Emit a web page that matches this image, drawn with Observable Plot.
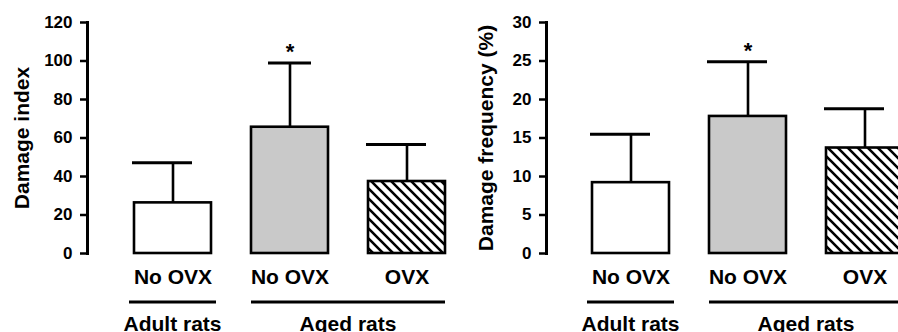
<!DOCTYPE html>
<html>
<head>
<meta charset="utf-8">
<script src="https://cdn.jsdelivr.net/npm/d3@7"></script>
<script src="https://cdn.jsdelivr.net/npm/@observablehq/plot@0.6"></script>
<style>
  html, body { margin: 0; padding: 0; background: white; overflow: hidden; width: 898px; height: 332px; }
  #left, #right { position: absolute; top: 0; }
  #left { left: 0; width: 450px; }
  #right { left: 450px; width: 460px; }
</style>
</head>
<body>
<div id="left"></div>
<div id="right"></div>
<script>
// ---- data ----
const categories = ["Adult No OVX", "Aged No OVX", "Aged OVX"];
const categoryLabels = ["No OVX", "No OVX", "OVX"];
const groupNames = ["Adult rats", "Aged rats"];
const groupMembers = [["Adult No OVX"], ["Aged No OVX", "Aged OVX"]];
const significant = [false, true, false];

const damageIndexMean = [26.3, 65.6, 37.4];
const damageIndexUpper = [47.1, 99.0, 56.6];
const damageIndexTicks = [0, 20, 40, 60, 80, 100, 120];

const damageFreqMean = [9.2, 17.8, 13.7];
const damageFreqUpper = [15.5, 24.9, 18.8];
const damageFreqTicks = [0, 5, 10, 15, 20, 25, 30];

function makePanel({means, uppers, ticks, yMax, label, marginLeft, range, hatchId, labelDx, capSpecial}) {
  const rows = categories.map((c, i) => ({cat: c, mean: means[i], upper: uppers[i], sig: significant[i], i}));
  const fills = ["white", "#c9c9c9", `url(#${hatchId})`];
  const defs = () => {
    const d = d3.create("svg:defs");
    const p = d.append("pattern").attr("id", hatchId).attr("patternUnits", "userSpaceOnUse")
      .attr("width", 10).attr("height", 10);
    p.append("rect").attr("width", 10).attr("height", 10).attr("fill", "white");
    p.append("path").attr("d", "M-2,-2L12,12M-7,3L3,13M3,-7L13,3")
      .attr("stroke", "black").attr("stroke-width", 2.6).attr("fill", "none");
    return d.node();
  };
  const marks = [
    defs,
    Plot.frame({anchor: "left", stroke: "black", strokeWidth: 3}),
    Plot.axisY({ticks, tickSize: 7, tickPadding: 8, fontSize: 17, strokeWidth: 2.5, label: null, tickFormat: d => String(d)}),
    Plot.axisX({tickSize: 0, tickPadding: 16, fontSize: 21, label: null, tickFormat: d => categoryLabels[categories.indexOf(d)]}),
    Plot.ruleX(rows, {x: "cat", y1: "mean", y2: "upper", stroke: "black", strokeWidth: 2.6}),
  ];
  rows.forEach((r, i) => {
    marks.push(Plot.barY([r], {x: "cat", y: "mean", fill: fills[i], stroke: "black", strokeWidth: 2.6}));
    const special = capSpecial && i === 1;
    marks.push(Plot.tickY([r], {x: "cat", y: "upper", stroke: "black", strokeWidth: 3,
      insetLeft: special ? 17 : -2, insetRight: special ? 17 : 19}));
  });
  marks.push(Plot.text(rows.filter(r => r.sig), {x: "cat", y: "upper", text: () => "*", fontSize: 22, lineAnchor: "bottom", dy: -4}));
  marks.push(Plot.text([label], {text: d => d, frameAnchor: "left", textAnchor: "middle", rotate: -90, lineAnchor: "bottom", fontSize: 21, dx: labelDx}));

  const chart = Plot.plot({
    width: range[1] > 450 ? 460 : 450,
    height: 332,
    marginTop: 22,
    marginBottom: 79,
    marginLeft,
    marginRight: 0,
    style: {fontFamily: "'Liberation Sans', Arial, sans-serif", fontWeight: "bold", color: "black", background: "white", maxWidth: "none"},
    x: {domain: categories, range, padding: 0.339},
    y: {domain: [0, yMax]},
    marks
  });

  // group labels and lines under the category labels, placed with the plot's x scale
  const xs = chart.scale("x");
  const bw = xs.bandwidth;
  const svg = d3.select(chart);
  groupMembers.forEach((members, gi) => {
    let x1 = xs.apply(members[0]);
    let x2 = xs.apply(members[members.length - 1]) + bw;
    if (members.length === 1) { x1 -= 5; x2 += 5; }
    svg.append("line").attr("x1", x1).attr("x2", x2).attr("y1", 302).attr("y2", 302)
      .attr("stroke", "black").attr("stroke-width", 3);
    svg.append("text").attr("x", (x1 + x2) / 2).attr("y", 331).attr("text-anchor", "middle")
      .attr("font-size", 21).attr("fill", "black").text(groupNames[gi]);
  });
  return chart;
}

document.getElementById("left").append(makePanel({
  means: damageIndexMean, uppers: damageIndexUpper, ticks: damageIndexTicks, yMax: 120,
  label: "Damage index", marginLeft: 87, range: [93, 487], hatchId: "hatchL", labelDx: -59, capSpecial: true
}));
document.getElementById("right").append(makePanel({
  means: damageFreqMean, uppers: damageFreqUpper, ticks: damageFreqTicks, yMax: 30,
  label: "Damage frequency (%)", marginLeft: 96, range: [101, 495], hatchId: "hatchR", labelDx: -54, capSpecial: false
}));
</script>
</body>
</html>
